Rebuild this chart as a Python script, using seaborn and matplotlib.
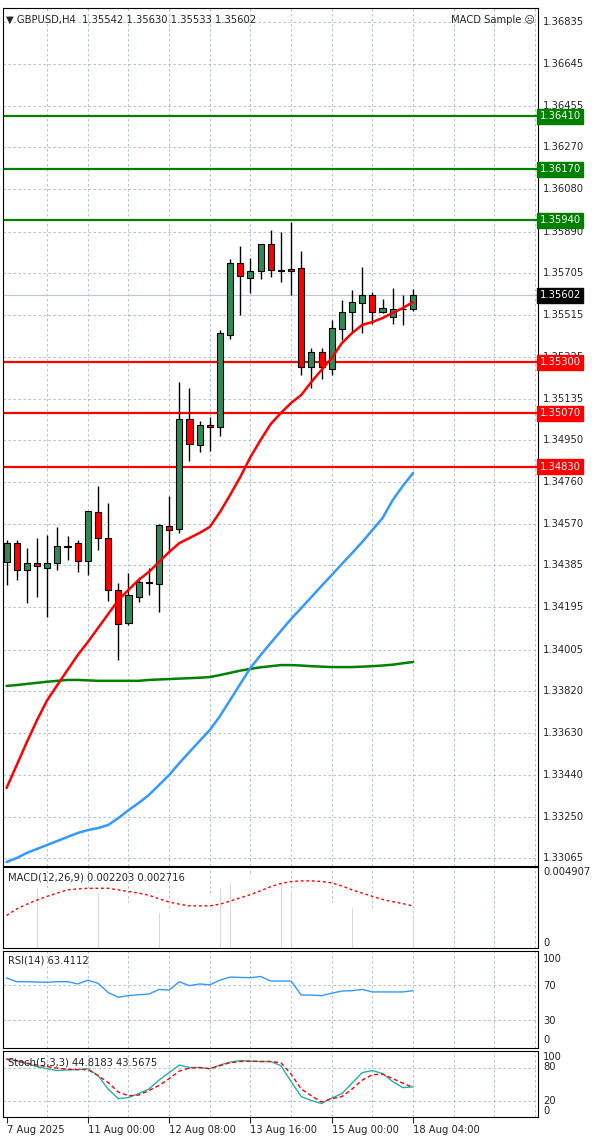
import numpy as np
import pandas as pd
import matplotlib
matplotlib.use("Agg")
import matplotlib.pyplot as plt
import matplotlib.transforms as mtrans
import seaborn as sns

sns.set_theme(style="white")
plt.rcParams['font.family'] = ['DejaVu Sans']

opens = [1.34401,1.34484,1.34363,1.34397,1.34375,1.34394,1.34473,1.34484,1.34404,1.34627,
         1.34506,1.34273,1.34123,1.34243,1.34311,1.34299,1.34563,1.34547,1.35043,1.34927,
         1.35017,1.35007,1.35423,1.35746,1.35682,1.35713,1.35833,1.35716,1.35719,1.35724,
         1.35277,1.35345,1.35268,1.35449,1.35525,1.35569,1.35603,1.35528,1.35503,1.35539,1.35542]
highs = [1.34499,1.34499,1.34461,1.34506,1.34521,1.34559,1.34517,1.34499,1.34632,1.34742,
         1.34667,1.34303,1.34348,1.34330,1.34371,1.34569,1.34699,1.35213,1.35183,1.35037,
         1.35052,1.35446,1.35764,1.35826,1.35769,1.35836,1.35897,1.35889,1.35934,1.35803,
         1.35367,1.35363,1.35491,1.35581,1.35626,1.35728,1.35618,1.35585,1.35634,1.35603,1.35630]
lows = [1.34296,1.34318,1.34213,1.34243,1.34150,1.34363,1.34409,1.34356,1.34341,1.34454,
        1.34225,1.33958,1.34115,1.34221,1.34251,1.34173,1.34439,1.34529,1.34855,1.34897,
        1.34902,1.34968,1.35404,1.35513,1.35611,1.35674,1.35686,1.35664,1.35603,1.35243,
        1.35183,1.35225,1.35243,1.35401,1.35434,1.35434,1.35473,1.35521,1.35473,1.35468,1.35533]
closes = [1.34484,1.34363,1.34394,1.34382,1.34394,1.34473,1.34469,1.34404,1.34630,1.34506,
          1.34273,1.34119,1.34251,1.34311,1.34303,1.34566,1.34544,1.35043,1.34932,1.35017,
          1.35007,1.35431,1.35746,1.35689,1.35713,1.35833,1.35716,1.35710,1.35713,1.35277,
          1.35345,1.35277,1.35453,1.35528,1.35573,1.35603,1.35528,1.35546,1.35539,1.35542,1.35602]
ma_red = [1.33381,1.33484,1.33588,1.33687,1.33777,1.33845,1.33913,1.33980,1.34039,1.34102,
          1.34165,1.34228,1.34274,1.34319,1.34355,1.34400,1.34445,1.34485,1.34508,1.34531,
          1.34558,1.34625,1.34702,1.34783,1.34873,1.34950,1.35022,1.35072,1.35117,1.35153,
          1.35212,1.35266,1.35320,1.35387,1.35432,1.35469,1.35482,1.35500,1.35523,1.35545,1.35572]
ma_blue = [1.33047,1.33065,1.33088,1.33106,1.33124,1.33142,1.33160,1.33178,1.33191,1.33200,
           1.33214,1.33245,1.33281,1.33313,1.33349,1.33394,1.33439,1.33493,1.33543,1.33593,
           1.33642,1.33705,1.33777,1.33850,1.33922,1.33980,1.34035,1.34089,1.34143,1.34192,
           1.34242,1.34292,1.34341,1.34391,1.34440,1.34490,1.34544,1.34598,1.34679,1.34743,1.34801]
ma_green = [1.33841,1.33845,1.33850,1.33855,1.33860,1.33864,1.33868,1.33868,1.33866,1.33864,
            1.33864,1.33864,1.33864,1.33864,1.33868,1.33870,1.33872,1.33874,1.33876,1.33878,
            1.33881,1.33890,1.33900,1.33910,1.33918,1.33925,1.33930,1.33935,1.33935,1.33933,
            1.33930,1.33928,1.33926,1.33926,1.33926,1.33928,1.33930,1.33933,1.33937,1.33943,1.33949]
macd_hist = [0.00381,0.00381,0.00385,0.00387,0.00387,0.00387,0.00381,0.00377,0.00373,0.00366,
             0.00356,0.00335,0.00294,0.00248,0.00236,0.00232,0.00232,0.00273,0.00294,0.00325,
             0.00352,0.00398,0.00429,0.00449,0.00464,0.00468,0.00460,0.00429,0.00377,0.00335,
             0.00311,0.00298,0.00290,0.00277,0.00263,0.00253,0.00248,0.00242,0.00232,0.00222,0.00220]
macd_signal = [0.00211,0.00253,0.00284,0.00311,0.00335,0.00356,0.00377,0.00383,0.00387,0.00387,
               0.00387,0.00377,0.00366,0.00356,0.00342,0.00319,0.00298,0.00284,0.00273,0.00273,
               0.00273,0.00284,0.00304,0.00325,0.00346,0.00371,0.00398,0.00418,0.00431,0.00435,
               0.00435,0.00431,0.00422,0.00402,0.00377,0.00356,0.00335,0.00315,0.00300,0.00288,0.00272]
rsi = [77.7,73.5,73.5,73.1,72.8,73.5,73.5,71.0,75.2,71.7,61.3,56.1,57.8,58.9,59.6,64.8,64.1,
       73.5,69.0,71.0,70.0,75.2,78.7,78.3,78.0,79.4,74.2,74.2,74.2,58.5,58.5,57.8,60.6,63.0,
       63.4,64.8,62.0,62.0,62.0,62.0,63.4]
stoch_k = [95.3,92.5,87.1,81.6,77.8,74.5,75.6,76.2,77.8,65.3,40.7,23.3,25.4,32.5,40.7,57.1,
           70.7,84.4,80.0,80.0,77.8,84.4,89.8,92.5,91.5,90.9,90.9,83.3,54.4,27.1,20.0,14.5,
           24.4,32.5,51.6,70.7,74.5,69.1,54.4,43.4,44.8]
stoch_d = [95.3,92.0,88.2,84.4,81.6,78.9,76.7,76.2,76.2,65.3,52.7,35.3,28.7,29.8,38.0,47.3,
           59.8,73.5,78.9,80.0,77.8,83.3,88.7,90.9,91.5,90.9,90.9,88.7,68.0,40.7,28.7,17.3,
           23.3,27.1,40.7,57.1,66.9,68.0,59.8,51.6,43.6]
green_levels = [1.36410, 1.36170, 1.35940]
red_levels = [1.35300, 1.35070, 1.34830]
current_price = 1.35602
price_ticks = [1.36835,1.36645,1.36455,1.36270,1.36080,1.35890,1.35705,1.35515,1.35325,1.35135,
               1.34950,1.34760,1.34570,1.34385,1.34195,1.34005,1.33820,1.33630,1.33440,1.33250,1.33065]
date_pos = [0, 8, 16, 24, 32, 40]
date_labels = ["7 Aug 2025", "11 Aug 00:00", "12 Aug 08:00", "13 Aug 16:00", "15 Aug 00:00", "18 Aug 04:00"]

n = len(opens)
idx = np.arange(n)
df = pd.DataFrame(dict(i=idx, o=opens, h=highs, l=lows, c=closes, red=ma_red, blue=ma_blue,
                       green=ma_green, mh=macd_hist, sig=macd_signal, rsi=rsi, k=stoch_k, d=stoch_d))

W, H = 600, 1139
fig = plt.figure(figsize=(6, 11.39), dpi=100)
L, R = 3/W, 538/W
def box(top, bot):
    return [L, 1 - bot/H, R - L, (bot - top)/H]
ax = fig.add_axes(box(8, 866))
axm = fig.add_axes(box(867, 948))
axr = fig.add_axes(box(951, 1048))
axs = fig.add_axes(box(1051, 1117))
xlim = (-0.35, 52.3)
grid_x = np.arange(4, 53, 4)
fs = 7.2

for a in (ax, axm, axr, axs):
    a.set_xlim(*xlim)
    a.set_xticks([])
    a.set_yticks([])
    for s in a.spines.values():
        s.set_color('black'); s.set_linewidth(0.8)
    for gx in grid_x:
        a.axvline(gx, color='#a9b7cc', lw=0.6, ls=(0, (3, 3)), zorder=0)

# main
ax.set_ylim(1.33029, 1.36898)
for p in price_ticks:
    ax.axhline(p, color='#a9b7cc', lw=0.6, ls=(0, (3, 3)), zorder=0)
ax.axhline(current_price, color='#b8c6d8', lw=0.8, zorder=1)
for p in green_levels:
    ax.axhline(p, color='#008000', lw=1.6, zorder=2)
for p in red_levels:
    ax.axhline(p, color='#ff0000', lw=1.6, zorder=2)
sns.lineplot(data=df, x='i', y='green', ax=ax, color='#008000', lw=1.8, zorder=3)
sns.lineplot(data=df, x='i', y='blue', ax=ax, color='#3399ff', lw=1.8, zorder=3)
ax.vlines(df['i'], df['l'], df['h'], color='black', lw=1.0, zorder=4)
up = df['c'] >= df['o']
body = np.maximum((df['c'] - df['o']).abs(), 0.000015)
ax.bar(df['i'], body, bottom=np.minimum(df['o'], df['c']), width=0.6,
       color=np.where(up, '#2e8b57', '#ff0000'), edgecolor='black', lw=0.8, zorder=5)
sns.lineplot(data=df, x='i', y='red', ax=ax, color='#ff0000', lw=1.8, zorder=6)
ax.set_xlabel(''); ax.set_ylabel('')
ax.set_xlim(*xlim)
ax.set_xticks([]); ax.set_yticks([])

tr = mtrans.blended_transform_factory(ax.transAxes, ax.transData)
for p in price_ticks:
    ax.text(1.01, p, f"{p:.5f}", transform=tr, fontsize=fs, va='center', ha='left', clip_on=False, zorder=1)
def tag(p, bg):
    ax.text(1.003, p, f"{p:.5f}", transform=tr, fontsize=fs, va='center', ha='left', color='white',
            clip_on=False, zorder=10, bbox=dict(boxstyle='square,pad=0.25', fc=bg, ec=bg))
for p in green_levels:
    tag(p, '#008000')
for p in red_levels:
    tag(p, '#ff0000')
tag(current_price, 'black')
ax.text(0.005, 0.992, "\u25bc GBPUSD,H4  1.35542 1.35630 1.35533 1.35602", transform=ax.transAxes,
        fontsize=fs, va='top', ha='left')
ax.text(0.995, 0.992, "MACD Sample \u2639", transform=ax.transAxes, fontsize=fs, va='top', ha='right')

# MACD
axm.set_ylim(0, 0.00525)
axm.bar(df['i'], df['mh'], width=0.12, color='#c0c0c0', zorder=2)
sns.lineplot(data=df, x='i', y='sig', ax=axm, color='#ff0000', lw=1.0, zorder=3)
axm.lines[-1].set_linestyle((0, (2, 2)))
axm.set_xlabel(''); axm.set_ylabel(''); axm.set_xlim(*xlim)
axm.set_xticks([]); axm.set_yticks([])
axm.text(0.01, 0.93, "MACD(12,26,9) 0.002203 0.002716", transform=axm.transAxes, fontsize=fs, va='top')
trm = mtrans.blended_transform_factory(axm.transAxes, axm.transData)
axm.text(1.01, 0.004907, "0.004907", transform=trm, fontsize=fs, va='center', clip_on=False)
axm.text(1.01, 0.0003, "0", transform=trm, fontsize=fs, va='center', clip_on=False)

# RSI
axr.set_ylim(-1, 108)
for lv in (70, 30):
    axr.axhline(lv, color='#a9b7cc', lw=0.6, ls=(0, (3, 3)), zorder=0)
sns.lineplot(data=df, x='i', y='rsi', ax=axr, color='#3399ff', lw=1.0)
axr.set_xlabel(''); axr.set_ylabel(''); axr.set_xlim(*xlim)
axr.set_xticks([]); axr.set_yticks([])
axr.text(0.01, 0.95, "RSI(14) 63.4112", transform=axr.transAxes, fontsize=fs, va='top')
trr = mtrans.blended_transform_factory(axr.transAxes, axr.transData)
for lv, yy in ((100, 99), (70, 69), (30, 29), (0, 8)):
    axr.text(1.01, yy, str(lv), transform=trr, fontsize=fs, va='center', clip_on=False)

# Stochastic
axs.set_ylim(-10, 110)
for lv in (80, 20):
    axs.axhline(lv, color='#a9b7cc', lw=0.6, ls=(0, (3, 3)), zorder=0)
sns.lineplot(data=df, x='i', y='k', ax=axs, color='#20b2aa', lw=1.0)
sns.lineplot(data=df, x='i', y='d', ax=axs, color='#ff0000', lw=1.0)
axs.lines[-1].set_linestyle((0, (3, 2)))
axs.set_xlabel(''); axs.set_ylabel(''); axs.set_xlim(*xlim)
axs.set_yticks([])
axs.text(0.01, 0.9, "Stoch(5,3,3) 44.8183 43.5675", transform=axs.transAxes, fontsize=fs, va='top')
trs = mtrans.blended_transform_factory(axs.transAxes, axs.transData)
for lv in (100, 80, 20, 0):
    axs.text(1.01, lv, str(lv), transform=trs, fontsize=fs, va='center', clip_on=False)

# date labels
axs.set_xticks(date_pos)
axs.set_xticklabels(date_labels, fontsize=fs, ha='left')
axs.tick_params(axis='x', length=4, width=0.8, pad=2, bottom=True, direction='out')

fig.savefig("out.png", dpi=100, facecolor='white')
